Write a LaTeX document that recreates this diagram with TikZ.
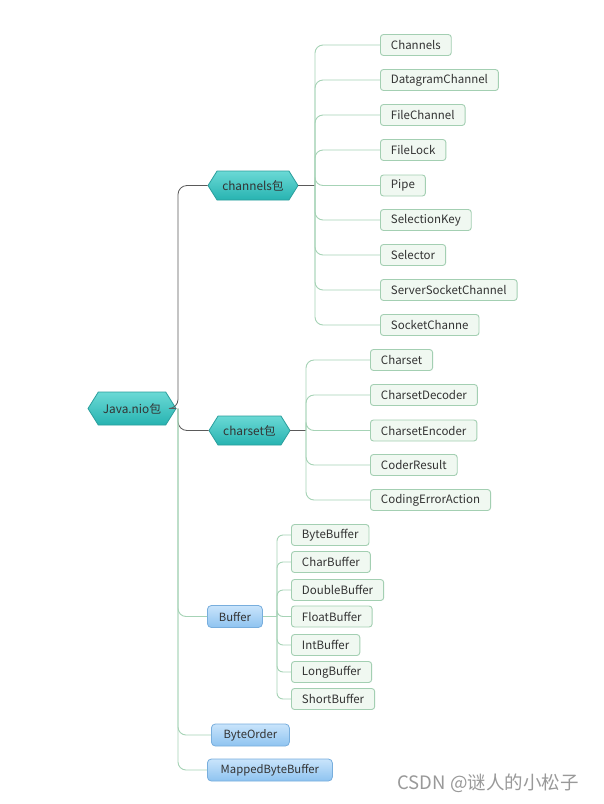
\documentclass[tikz,border=0pt]{standalone}
\usepackage{fontspec}
\setmainfont{Noto Sans CJK SC}
\usetikzlibrary{shapes.symbols}
\definecolor{leafbd}{HTML}{A3CFB2}
\definecolor{leaffill}{HTML}{F0F8F1}
\definecolor{linegreen}{HTML}{A6D3B6}
\definecolor{linedark}{HTML}{5A5A5A}
\definecolor{hexbd}{HTML}{2A9E9C}
\definecolor{hextop}{HTML}{6AD9D5}
\definecolor{hexbot}{HTML}{27B3B1}
\definecolor{bluebd}{HTML}{78AEDD}
\definecolor{bluetop}{HTML}{C9E4FB}
\definecolor{bluebot}{HTML}{8EC3F0}
\definecolor{txt}{HTML}{333333}
\tikzset{
  leaf/.style={draw=leafbd, fill=leaffill, rounded corners=3pt, line width=0.9pt,
    minimum height=21pt, inner xsep=10.5pt, inner ysep=0pt, anchor=west,
    text=txt, font=\fontsize{11.5}{13}\selectfont},
  hexnode/.style={shape=signal, signal to=east and west, signal pointer angle=116,
    draw=hexbd, line width=0.8pt, top color=hextop, bottom color=hexbot,
    inner sep=0pt, text=txt, font=\fontsize{11.8}{13}\selectfont},
  bluebox/.style={draw=bluebd, line width=0.8pt, rounded corners=4pt,
    top color=bluetop, bottom color=bluebot, inner xsep=9pt, inner ysep=0pt,
    minimum height=22pt, anchor=west, text=txt, font=\fontsize{11.3}{13}\selectfont},
  darkline/.style={draw=linedark, line width=0.8pt, rounded corners=9pt},
  greenline/.style={draw=linegreen, line width=0.9pt, rounded corners=8pt},
}
\begin{document}
\begin{tikzpicture}[x=1pt,y=-1pt]
\useasboundingbox (0,0) rectangle (604,804);
\fill[white] (0,0) rectangle (604,804);

% main nodes
\node[hexnode, minimum width=88pt, minimum height=33pt] (java) at (132,408.5) {Java.nio包};
\node[hexnode, minimum width=90pt, minimum height=29pt] (channels) at (253,185.5) {channels包};
\node[hexnode, minimum width=81pt, minimum height=29pt] (charset) at (249.5,430.5) {charset包};
\node[bluebox, minimum width=55pt] (buffer) at (207,616.5) {Buffer};
\node[bluebox, minimum width=78pt] (byteorder) at (211,735) {ByteOrder};
\node[bluebox, minimum width=125pt] (mapped) at (207,770) {MappedByteBuffer};

% trunk
\coordinate (trunk) at (178,408.5);
\draw[darkline] (java.east) -- (trunk) |- (channels.west);
\draw[darkline] (trunk) |- (charset.west);
\draw[greenline] (trunk) |- (buffer.west);
\draw[greenline] (trunk) |- (byteorder.west);
\draw[greenline] (trunk) |- (mapped.west);

% channels children
\node[leaf] (c1) at (380,45) {Channels};
\node[leaf] (c2) at (380,80) {DatagramChannel};
\node[leaf] (c3) at (380,115) {FileChannel};
\node[leaf] (c4) at (380,150) {FileLock};
\node[leaf] (c5) at (380,185.5) {Pipe};
\node[leaf] (c6) at (380,220) {SelectionKey};
\node[leaf] (c7) at (380,255) {Selector};
\node[leaf] (c8) at (380,290) {ServerSocketChannel};
\node[leaf] (c9) at (380,325) {SocketChanne};
\coordinate (chbus) at (315,185.5);
\draw[draw=linedark, line width=0.8pt] (channels.east) -- (chbus);
\foreach \n in {c1,c2,c3,c4,c5,c6,c7,c8,c9}
  \draw[greenline] (chbus) |- (\n.west);

% charset children
\node[leaf] (s1) at (370,360) {Charset};
\node[leaf] (s2) at (370,395) {CharsetDecoder};
\node[leaf] (s3) at (370,430.5) {CharsetEncoder};
\node[leaf] (s4) at (370,465) {CoderResult};
\node[leaf] (s5) at (370,500) {CodingErrorAction};
\coordinate (csbus) at (306,430.5);
\draw[draw=linedark, line width=0.8pt] (charset.east) -- (csbus);
\foreach \n in {s1,s2,s3,s4,s5}
  \draw[greenline] (csbus) |- (\n.west);

% buffer children
\node[leaf] (b1) at (291,535) {ByteBuffer};
\node[leaf] (b2) at (291,562) {CharBuffer};
\node[leaf] (b3) at (291,590) {DoubleBuffer};
\node[leaf] (b4) at (291,616.5) {FloatBuffer};
\node[leaf] (b5) at (291,645) {IntBuffer};
\node[leaf] (b6) at (291,672) {LongBuffer};
\node[leaf] (b7) at (291,699) {ShortBuffer};
\coordinate (bfbus) at (277,616.5);
\draw[greenline] (buffer.east) -- (bfbus);
\foreach \n in {b1,b2,b3,b4,b5,b6,b7}
  \draw[greenline, rounded corners=6pt] (bfbus) |- (\n.west);

% watermark
\node[anchor=west, text=black!40, font=\fontsize{18.5}{20}\selectfont] (wm) at (394,783) {CSDN @谜人的小松子};
\end{tikzpicture}
\end{document}
